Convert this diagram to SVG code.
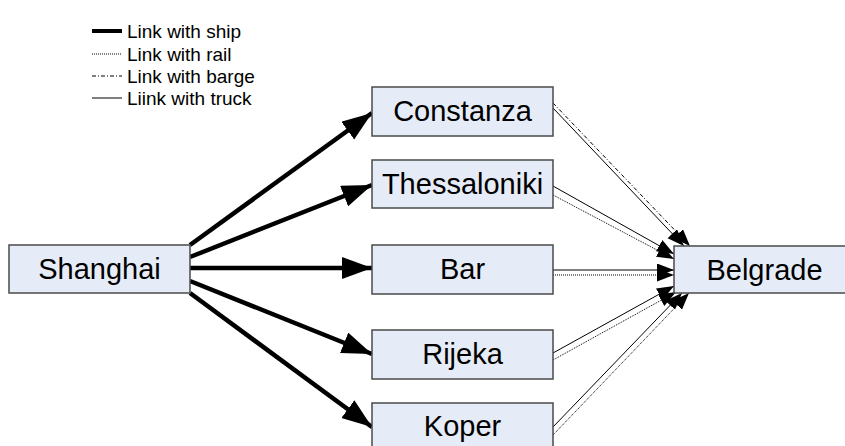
<svg xmlns="http://www.w3.org/2000/svg" width="845" height="446" viewBox="0 0 845 446">
  <defs>
    <style>
      .node rect { fill: #e6ecf7; stroke: #4a4a4a; stroke-width: 1.5; }
      .node text { font-family: "Liberation Sans", Arial, sans-serif; font-size: 29px; fill: #000; text-anchor: middle; }
      .legend text { font-family: "Liberation Sans", Arial, sans-serif; font-size: 19px; fill: #000; }
      .ship { stroke: #000; stroke-width: 4.5; fill: none; }
      .truck { stroke: #000; stroke-width: 1; fill: none; }
      .rail { stroke: #000; stroke-width: 1; stroke-dasharray: 1 1; fill: none; }
      .barge { stroke: #000; stroke-width: 1; stroke-dasharray: 4 2 1 2; fill: none; }
    </style>
    <marker id="bigArrow" markerUnits="userSpaceOnUse" markerWidth="32" markerHeight="24" refX="30" refY="11" orient="auto">
      <path d="M0,0 L30,11 L0,22 z" fill="#000"/>
    </marker>
    <marker id="smallArrow" markerUnits="userSpaceOnUse" markerWidth="18" markerHeight="14" refX="17" refY="6.5" orient="auto">
      <path d="M0,0 L17,6.5 L0,13 z" fill="#000"/>
    </marker>
  </defs>

  <g id="legend" class="legend">
    <line class="ship" x1="92" y1="31" x2="122" y2="31" style="stroke-width:4"/>
    <text x="127" y="38">Link with ship</text>
    <line class="rail" x1="92" y1="54" x2="122" y2="54"/>
    <text x="127" y="61">Link with rail</text>
    <line class="barge" x1="92" y1="76" x2="122" y2="76"/>
    <text x="127" y="83">Link with barge</text>
    <line class="truck" x1="92" y1="98" x2="122" y2="98"/>
    <text x="127" y="105">Liink with truck</text>
  </g>

  <g id="connectors">
    <line class="ship" x1="190" y1="245" x2="372" y2="113" marker-end="url(#bigArrow)"/>
    <line class="ship" x1="190" y1="257" x2="372" y2="185" marker-end="url(#bigArrow)"/>
    <line class="ship" x1="190" y1="268" x2="372" y2="268" marker-end="url(#bigArrow)"/>
    <line class="ship" x1="190" y1="281" x2="372" y2="354" marker-end="url(#bigArrow)"/>
    <line class="ship" x1="190" y1="293" x2="372" y2="427" marker-end="url(#bigArrow)"/>

    <line class="barge" x1="553" y1="103" x2="690" y2="246" marker-end="url(#smallArrow)"/>
    <line class="truck" x1="553" y1="108" x2="684" y2="246" marker-end="url(#smallArrow)"/>

    <line class="truck" x1="553" y1="186" x2="674" y2="254" marker-end="url(#smallArrow)"/>
    <line class="rail" x1="553" y1="195" x2="674" y2="259" marker-end="url(#smallArrow)"/>

    <line class="truck" x1="553" y1="270" x2="674" y2="270" marker-end="url(#smallArrow)"/>
    <line class="rail" x1="553" y1="275" x2="674" y2="275" marker-end="url(#smallArrow)"/>

    <line class="truck" x1="553" y1="353" x2="674" y2="286" marker-end="url(#smallArrow)"/>
    <line class="rail" x1="553" y1="360" x2="676" y2="292" marker-end="url(#smallArrow)"/>

    <line class="truck" x1="553" y1="427" x2="682" y2="293" marker-end="url(#smallArrow)"/>
    <line class="rail" x1="553" y1="435" x2="689" y2="293" marker-end="url(#smallArrow)"/>
  </g>

  <g id="shanghai" class="node">
    <rect x="9" y="245" width="181" height="48"/>
    <text x="99.5" y="279">Shanghai</text>
  </g>
  <g id="constanza" class="node">
    <rect x="372" y="87" width="181" height="49"/>
    <text x="462.5" y="121">Constanza</text>
  </g>
  <g id="thessaloniki" class="node">
    <rect x="372" y="160" width="181" height="48"/>
    <text x="462.5" y="194">Thessaloniki</text>
  </g>
  <g id="bar" class="node">
    <rect x="372" y="245" width="181" height="49"/>
    <text x="462.5" y="279">Bar</text>
  </g>
  <g id="rijeka" class="node">
    <rect x="372" y="330" width="181" height="49"/>
    <text x="462.5" y="364">Rijeka</text>
  </g>
  <g id="koper" class="node">
    <rect x="372" y="403" width="181" height="49"/>
    <text x="462.5" y="436">Koper</text>
  </g>
  <g id="belgrade" class="node">
    <rect x="674" y="246" width="181" height="47"/>
    <text x="764.5" y="280">Belgrade</text>
  </g>
</svg>
